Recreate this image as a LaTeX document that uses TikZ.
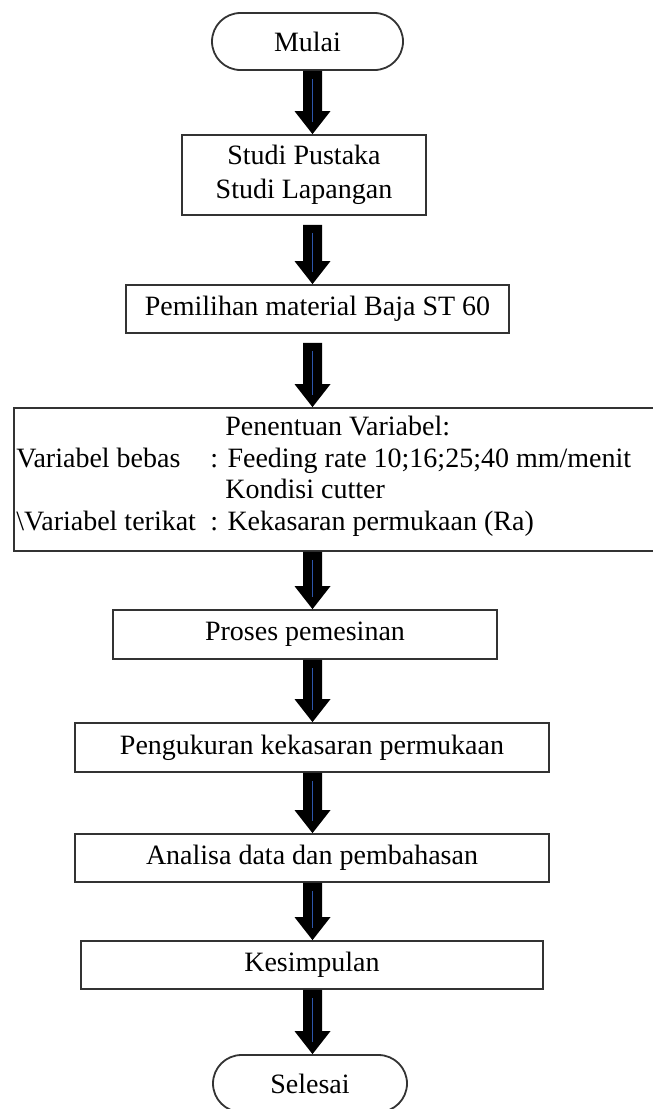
\documentclass[tikz,border=0pt]{standalone}
\usepackage{fontspec}
\setmainfont{Liberation Serif}
\usetikzlibrary{calc}
\definecolor{arrowblue}{RGB}{45,85,170}
\tikzset{
  flowbox/.style={draw=black!80, line width=0.9pt, rectangle, inner sep=0pt, align=center, fill=white},
  terminal/.style={flowbox, rounded corners=14.25pt},
  txt/.style={inner sep=0pt, anchor=base west},
  arrowbody/.style={fill=black},
  arrowcore/.style={draw=arrowblue, line width=0.8pt}
}
\newcommand{\blockarrow}[2]{%
  \path (#1) coordinate (ba-s) (#2) coordinate (ba-e);
  \fill[arrowbody] ($(ba-s)+(-9.5,0)$) -- ($(ba-s)+(9.5,0)$) -- ($(ba-e)+(9.5,-23)$) -- ($(ba-e)+(18,-23)$) -- (ba-e) -- ($(ba-e)+(-18,-23)$) -- ($(ba-e)+(-9.5,-23)$) -- cycle;
  \draw[arrowcore] ($(ba-s)+(0,8)$) -- ($(ba-e)+(0,-12)$);
}
\begin{document}
\begin{tikzpicture}[x=0.5pt,y=-0.5pt,font=\fontsize{14}{17}\selectfont]
\useasboundingbox (0,0) rectangle (653,1109);
\clip (0,0) rectangle (653,1109);
\fill[white] (0,0) rectangle (653,1109);
\coordinate (ax) at (312.5,0);

\node[terminal, minimum width=95.5pt, minimum height=28.5pt] (mulai) at (307.5,41.5) {Mulai};
\node[flowbox, minimum width=122pt, minimum height=40pt] (studi) at (304,175) {Studi Pustaka\\Studi Lapangan};
\node[flowbox, minimum width=191.5pt, minimum height=24pt] (material) at (317.5,309) {Pemilihan material Baja ST 60};
\node[flowbox, minimum width=328pt, minimum height=71.5pt] (variabel) at (342,479.5) {};
\node[flowbox, minimum width=192pt, minimum height=24.5pt] (proses) at (305,634.5) {Proses pemesinan};
\node[flowbox, minimum width=237pt, minimum height=24.5pt] (ukur) at (312,747.5) {Pengukuran kekasaran permukaan};
\node[flowbox, minimum width=237pt, minimum height=24pt] (analisa) at (312,858) {Analisa data dan pembahasan};
\node[flowbox, minimum width=231pt, minimum height=24pt] (simpul) at (312,965) {Kesimpulan};
\node[terminal, minimum width=97pt, minimum height=28.5pt] (selesai) at (310,1083.5) {Selesai};

\begin{scope}[font=\fontsize{14}{16}\selectfont]
\node[txt] (v0) at (225,435) {Penentuan Variabel:};
\node[txt] (v1a) at (16,467) {Variabel bebas};
\node[txt] (v1b) at (210,467) {: Feeding rate 10;16;25;40 mm/menit};
\node[txt] (v2) at (225,498) {Kondisi cutter};
\node[txt] (v3a) at (16,530) {\textbackslash Variabel terikat};
\node[txt] (v3b) at (210,530) {: Kekasaran permukaan (Ra)};
\end{scope}

\blockarrow{mulai.south -| ax}{studi.north -| ax}
\blockarrow{$(studi.south -| ax)+(0,9)$}{material.north -| ax}
\blockarrow{$(material.south -| ax)+(0,9)$}{variabel.north -| ax}
\blockarrow{variabel.south -| ax}{proses.north -| ax}
\blockarrow{proses.south -| ax}{ukur.north -| ax}
\blockarrow{ukur.south -| ax}{analisa.north -| ax}
\blockarrow{analisa.south -| ax}{simpul.north -| ax}
\blockarrow{simpul.south -| ax}{selesai.north -| ax}
\end{tikzpicture}
\end{document}
